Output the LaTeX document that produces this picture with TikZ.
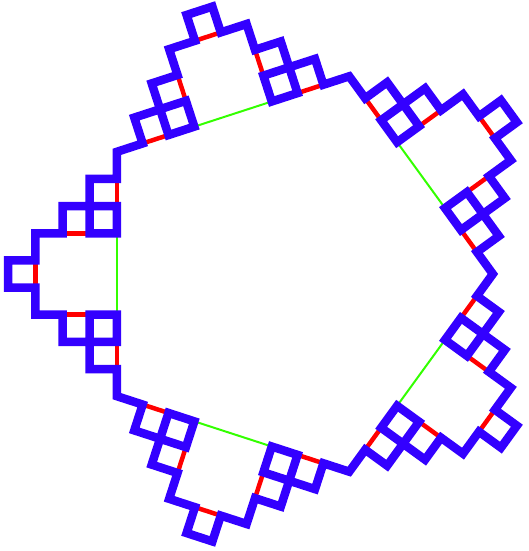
\documentclass[tikz,border=0pt]{standalone}
\definecolor{kblue}{RGB}{51,0,255}
\definecolor{kred}{RGB}{255,0,0}
\definecolor{kgreen}{RGB}{51,255,0}
\tikzset{
  blueline/.style={draw=kblue,line width=8.5pt,line join=miter},
  redline/.style={draw=kred,line width=4.5pt},
  greenline/.style={draw=kgreen,line width=2pt}
}
\begin{document}
\begin{tikzpicture}[x=1pt,y=1pt]
\useasboundingbox (0,0) rectangle (528,551);
\def\cx{285}
\def\cy{277}
\def\R{207.86}
\def\t{27.15}
% bases of the bumps (under the curve)
\foreach \k in {0,...,4}{
  \begin{scope}[shift={({\cx+\R*cos(216-72*\k)},{\cy+\R*sin(216-72*\k)})},rotate={90-72*\k},scale=\t]
    \draw[greenline] (3,0) -- (6,0);
    \draw[redline] (1,0) -- (2,0);
    \draw[redline] (3,1) -- (3,2);
    \draw[redline] (4,3) -- (5,3);
    \draw[redline] (6,2) -- (6,1);
    \draw[redline] (7,0) -- (8,0);
  \end{scope}
}
% the curve
\draw[blueline] ({\cx+\R*cos(216)+\t*0.5*cos(90)},{\cy+\R*sin(216)+\t*0.5*sin(90)})
  \foreach \k in {0,...,4}{
    \foreach \a/\b in {1/0,1/1,2/1,2/0,3/0,3/1,2/1,2/2,3/2,3/3,4/3,4/4,5/4,5/3,6/3,6/2,7/2,7/1,6/1,6/0,7/0,7/1,8/1,8/0,9/0}{
      -- ({\cx+\R*cos(216-72*\k)+\t*(\a*cos(90-72*\k)-\b*sin(90-72*\k))},{\cy+\R*sin(216-72*\k)+\t*(\a*sin(90-72*\k)+\b*cos(90-72*\k))})
    }
  } -- cycle;
\end{tikzpicture}
\end{document}
